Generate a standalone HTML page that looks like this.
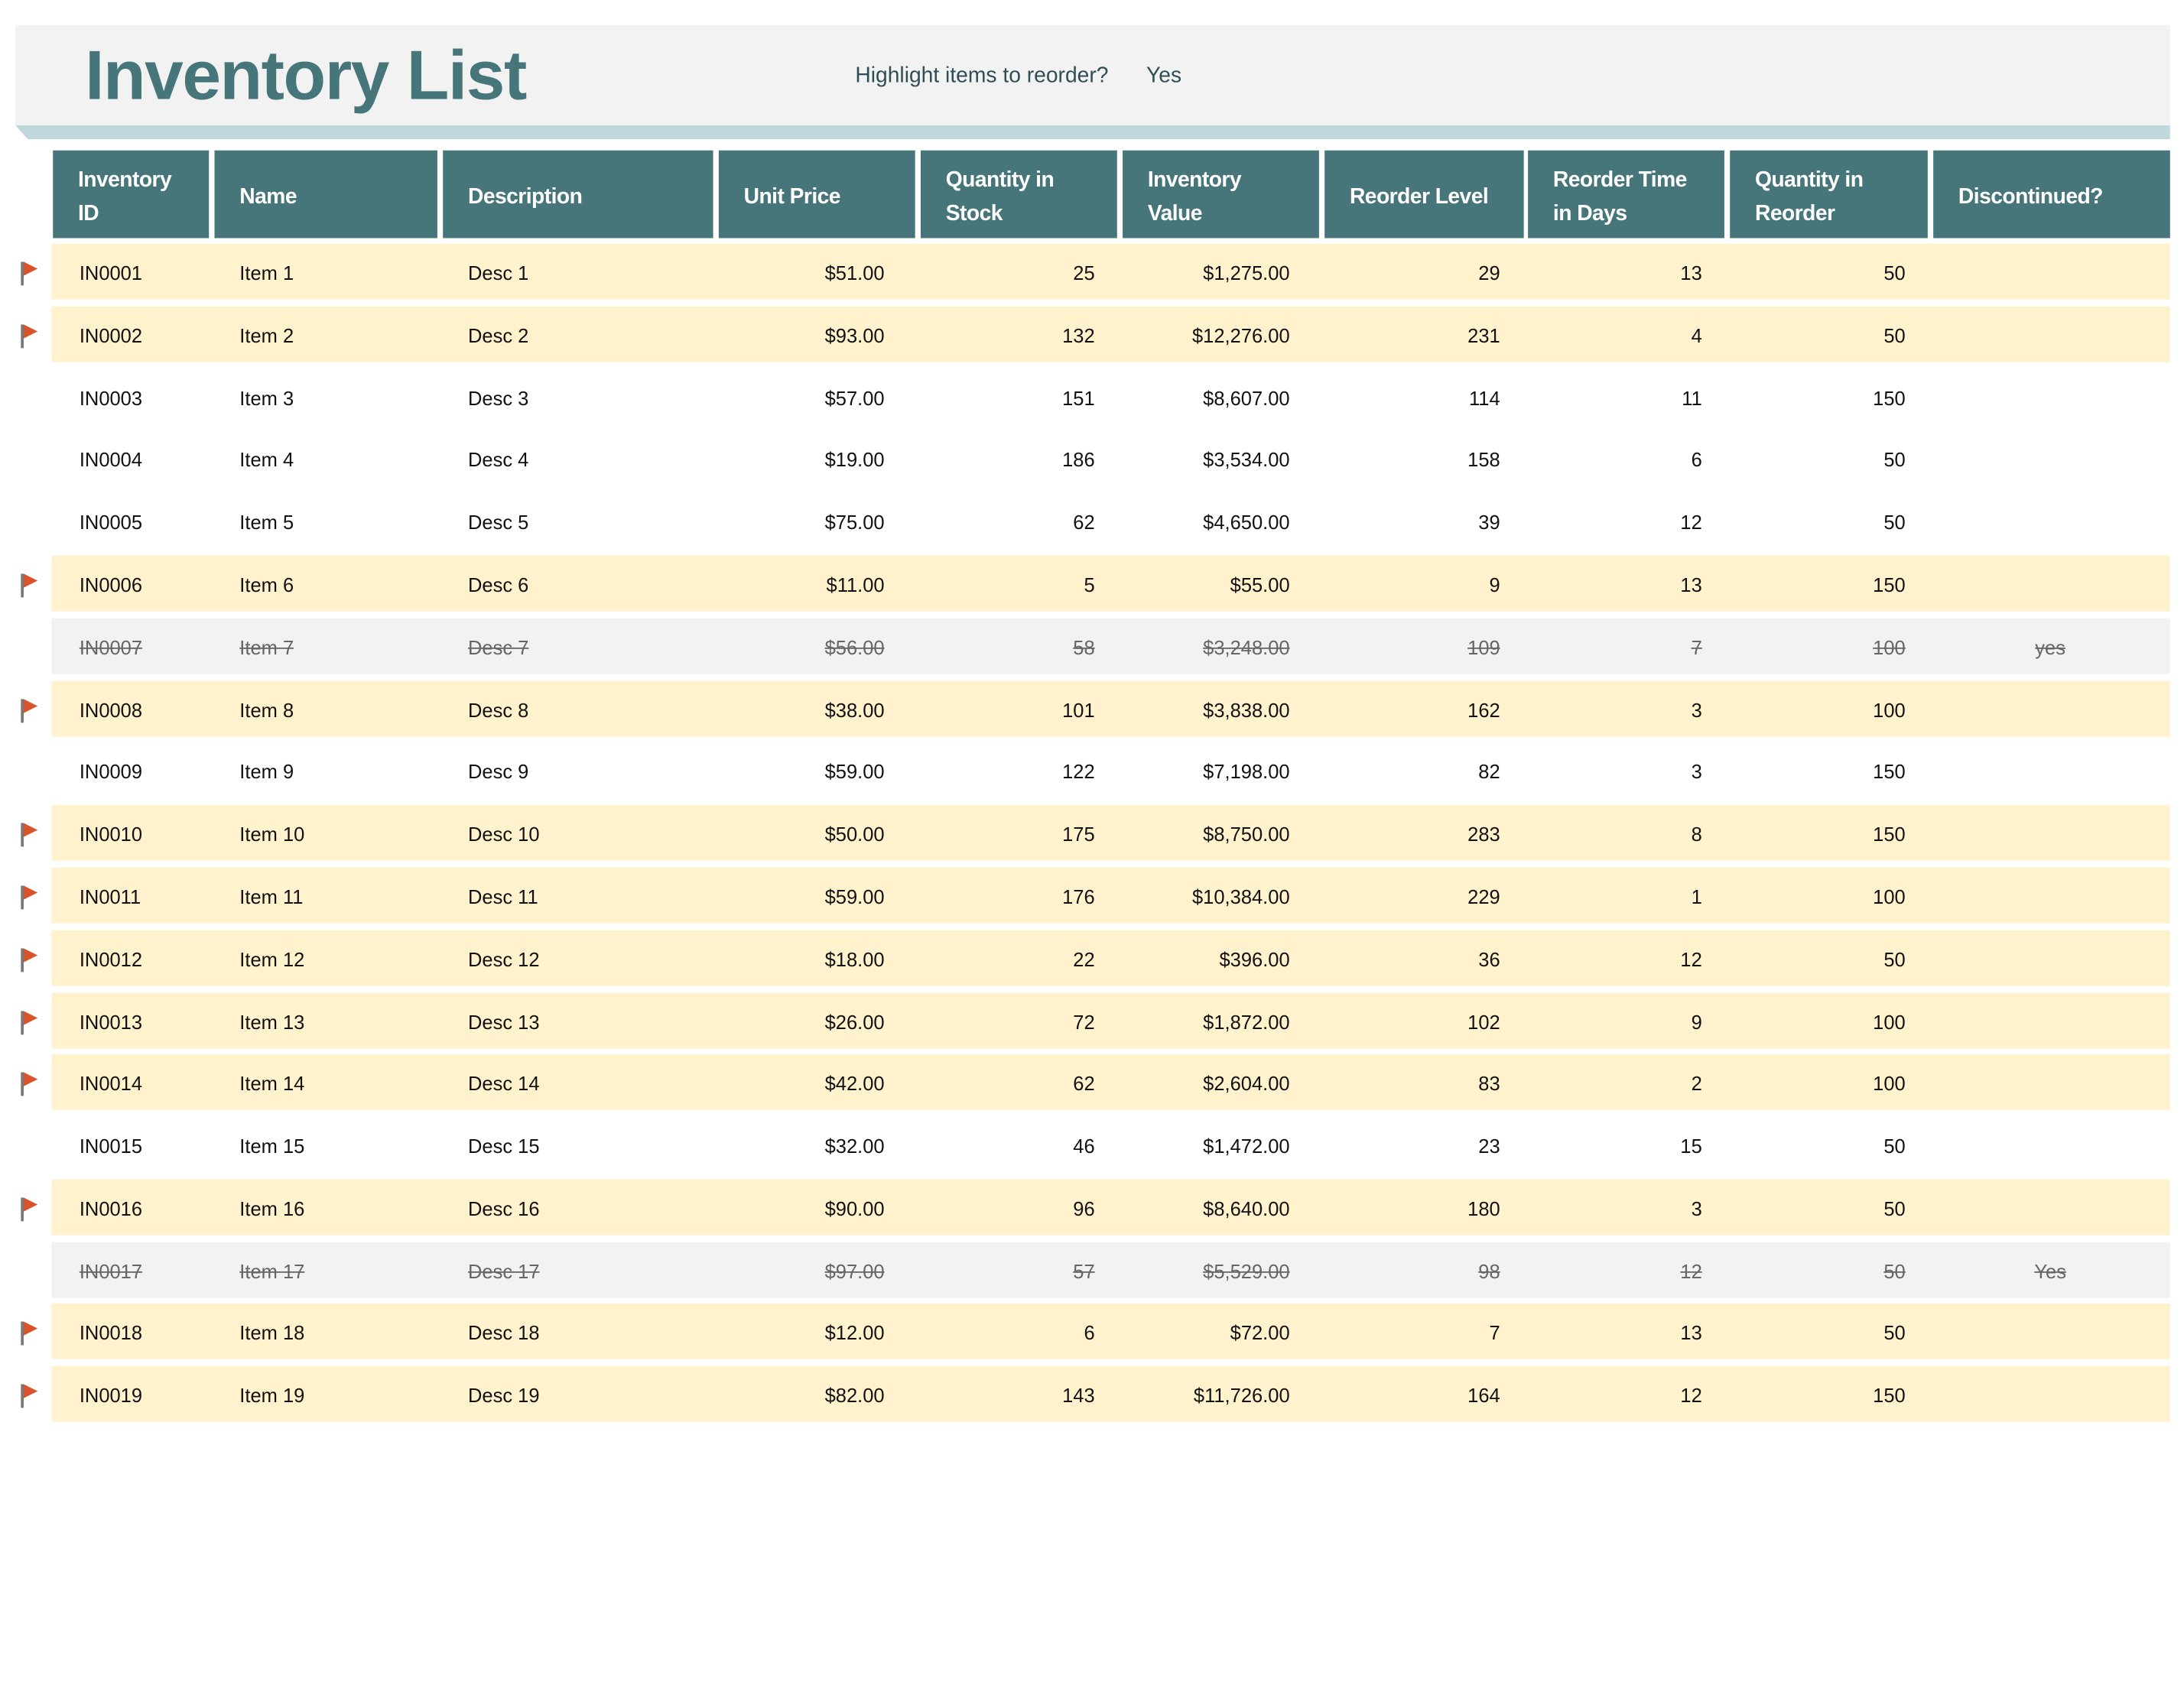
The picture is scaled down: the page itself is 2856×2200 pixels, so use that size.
<!DOCTYPE html>
<html><head><meta charset="utf-8">
<style>
html,body{margin:0;padding:0;background:#fff;}
body{width:2856px;height:2200px;overflow:hidden;position:relative;}
#w{position:absolute;left:0;top:0;width:1568px;height:1208px;transform:scale(1.82143);transform-origin:0 0;font-family:"Liberation Sans",sans-serif;}
.a{position:absolute;}
.band{left:11px;top:18px;width:1547px;height:72px;background:#f2f2f2;}
.title{left:61px;top:20px;font-size:50px;font-weight:bold;color:#46767a;letter-spacing:-0.8px;line-height:68px;}
.hl{top:45px;font-size:15.5px;color:#2f4f55;line-height:20px;}
.hc{top:108px;height:63px;background:#46767a;color:#fff;font-size:15.5px;font-weight:bold;line-height:24px;box-sizing:border-box;padding-left:18px;padding-top:4px;display:flex;align-items:center;letter-spacing:-0.3px;}
.r{left:37px;width:1521px;height:40px;}
.y{background:#fff2cc;}
.g{background:#f2f2f2;}
.t{position:absolute;top:1px;font-size:14px;line-height:40px;color:#111;white-space:nowrap;}
.d .t{color:#666;text-decoration:line-through;}
.c1{left:20px}.c2{left:135px}.c3{left:299px}
.c4{right:923px}.c5{right:772px}.c6{right:632px}.c7{right:481px}.c8{right:336px}.c9{right:190px}
.c10{left:1395px;width:80px;text-align:center}
.fp{position:absolute;left:-22px;top:13px;width:1.5px;height:17px;background:#777;}
.ft{position:absolute;left:-20px;top:13px;width:0;height:0;border-top:5px solid transparent;border-bottom:5px solid transparent;border-left:10px solid #d9542b;}
</style></head><body><div id="w">
<div class="a band"></div>
<div class="a title">Inventory List</div>
<div class="a hl" style="left:614px">Highlight items to reorder?</div>
<div class="a hl" style="left:823px">Yes</div>
<svg class="a" style="left:0;top:89px" width="1568" height="12"><polygon points="11,1 1558,1 1558,11 20,11" fill="#bed8db"/></svg>

<div class="a hc" style="left:38px;width:112px">Inventory<br>ID</div>
<div class="a hc" style="left:154px;width:160px">Name</div>
<div class="a hc" style="left:318px;width:194px">Description</div>
<div class="a hc" style="left:516px;width:141px">Unit Price</div>
<div class="a hc" style="left:661px;width:141px">Quantity in<br>Stock</div>
<div class="a hc" style="left:806px;width:141px">Inventory<br>Value</div>
<div class="a hc" style="left:951px;width:143px">Reorder Level</div>
<div class="a hc" style="left:1097px;width:141px">Reorder Time<br>in Days</div>
<div class="a hc" style="left:1242px;width:142px">Quantity in<br>Reorder</div>
<div class="a hc" style="left:1388px;width:170px">Discontinued?</div>

<div class="a r y" style="top:175px"><i class="fp"></i><i class="ft"></i><span class="t c1">IN0001</span><span class="t c2">Item 1</span><span class="t c3">Desc 1</span><span class="t c4">$51.00</span><span class="t c5">25</span><span class="t c6">$1,275.00</span><span class="t c7">29</span><span class="t c8">13</span><span class="t c9">50</span></div>
<div class="a r y" style="top:220px"><i class="fp"></i><i class="ft"></i><span class="t c1">IN0002</span><span class="t c2">Item 2</span><span class="t c3">Desc 2</span><span class="t c4">$93.00</span><span class="t c5">132</span><span class="t c6">$12,276.00</span><span class="t c7">231</span><span class="t c8">4</span><span class="t c9">50</span></div>
<div class="a r" style="top:265px"><span class="t c1">IN0003</span><span class="t c2">Item 3</span><span class="t c3">Desc 3</span><span class="t c4">$57.00</span><span class="t c5">151</span><span class="t c6">$8,607.00</span><span class="t c7">114</span><span class="t c8">11</span><span class="t c9">150</span></div>
<div class="a r" style="top:309px"><span class="t c1">IN0004</span><span class="t c2">Item 4</span><span class="t c3">Desc 4</span><span class="t c4">$19.00</span><span class="t c5">186</span><span class="t c6">$3,534.00</span><span class="t c7">158</span><span class="t c8">6</span><span class="t c9">50</span></div>
<div class="a r" style="top:354px"><span class="t c1">IN0005</span><span class="t c2">Item 5</span><span class="t c3">Desc 5</span><span class="t c4">$75.00</span><span class="t c5">62</span><span class="t c6">$4,650.00</span><span class="t c7">39</span><span class="t c8">12</span><span class="t c9">50</span></div>
<div class="a r y" style="top:399px"><i class="fp"></i><i class="ft"></i><span class="t c1">IN0006</span><span class="t c2">Item 6</span><span class="t c3">Desc 6</span><span class="t c4">$11.00</span><span class="t c5">5</span><span class="t c6">$55.00</span><span class="t c7">9</span><span class="t c8">13</span><span class="t c9">150</span></div>
<div class="a r g d" style="top:444px"><span class="t c1">IN0007</span><span class="t c2">Item 7</span><span class="t c3">Desc 7</span><span class="t c4">$56.00</span><span class="t c5">58</span><span class="t c6">$3,248.00</span><span class="t c7">109</span><span class="t c8">7</span><span class="t c9">100</span><span class="t c10">yes</span></div>
<div class="a r y" style="top:489px"><i class="fp"></i><i class="ft"></i><span class="t c1">IN0008</span><span class="t c2">Item 8</span><span class="t c3">Desc 8</span><span class="t c4">$38.00</span><span class="t c5">101</span><span class="t c6">$3,838.00</span><span class="t c7">162</span><span class="t c8">3</span><span class="t c9">100</span></div>
<div class="a r" style="top:533px"><span class="t c1">IN0009</span><span class="t c2">Item 9</span><span class="t c3">Desc 9</span><span class="t c4">$59.00</span><span class="t c5">122</span><span class="t c6">$7,198.00</span><span class="t c7">82</span><span class="t c8">3</span><span class="t c9">150</span></div>
<div class="a r y" style="top:578px"><i class="fp"></i><i class="ft"></i><span class="t c1">IN0010</span><span class="t c2">Item 10</span><span class="t c3">Desc 10</span><span class="t c4">$50.00</span><span class="t c5">175</span><span class="t c6">$8,750.00</span><span class="t c7">283</span><span class="t c8">8</span><span class="t c9">150</span></div>
<div class="a r y" style="top:623px"><i class="fp"></i><i class="ft"></i><span class="t c1">IN0011</span><span class="t c2">Item 11</span><span class="t c3">Desc 11</span><span class="t c4">$59.00</span><span class="t c5">176</span><span class="t c6">$10,384.00</span><span class="t c7">229</span><span class="t c8">1</span><span class="t c9">100</span></div>
<div class="a r y" style="top:668px"><i class="fp"></i><i class="ft"></i><span class="t c1">IN0012</span><span class="t c2">Item 12</span><span class="t c3">Desc 12</span><span class="t c4">$18.00</span><span class="t c5">22</span><span class="t c6">$396.00</span><span class="t c7">36</span><span class="t c8">12</span><span class="t c9">50</span></div>
<div class="a r y" style="top:713px"><i class="fp"></i><i class="ft"></i><span class="t c1">IN0013</span><span class="t c2">Item 13</span><span class="t c3">Desc 13</span><span class="t c4">$26.00</span><span class="t c5">72</span><span class="t c6">$1,872.00</span><span class="t c7">102</span><span class="t c8">9</span><span class="t c9">100</span></div>
<div class="a r y" style="top:757px"><i class="fp"></i><i class="ft"></i><span class="t c1">IN0014</span><span class="t c2">Item 14</span><span class="t c3">Desc 14</span><span class="t c4">$42.00</span><span class="t c5">62</span><span class="t c6">$2,604.00</span><span class="t c7">83</span><span class="t c8">2</span><span class="t c9">100</span></div>
<div class="a r" style="top:802px"><span class="t c1">IN0015</span><span class="t c2">Item 15</span><span class="t c3">Desc 15</span><span class="t c4">$32.00</span><span class="t c5">46</span><span class="t c6">$1,472.00</span><span class="t c7">23</span><span class="t c8">15</span><span class="t c9">50</span></div>
<div class="a r y" style="top:847px"><i class="fp"></i><i class="ft"></i><span class="t c1">IN0016</span><span class="t c2">Item 16</span><span class="t c3">Desc 16</span><span class="t c4">$90.00</span><span class="t c5">96</span><span class="t c6">$8,640.00</span><span class="t c7">180</span><span class="t c8">3</span><span class="t c9">50</span></div>
<div class="a r g d" style="top:892px"><span class="t c1">IN0017</span><span class="t c2">Item 17</span><span class="t c3">Desc 17</span><span class="t c4">$97.00</span><span class="t c5">57</span><span class="t c6">$5,529.00</span><span class="t c7">98</span><span class="t c8">12</span><span class="t c9">50</span><span class="t c10">Yes</span></div>
<div class="a r y" style="top:936px"><i class="fp"></i><i class="ft"></i><span class="t c1">IN0018</span><span class="t c2">Item 18</span><span class="t c3">Desc 18</span><span class="t c4">$12.00</span><span class="t c5">6</span><span class="t c6">$72.00</span><span class="t c7">7</span><span class="t c8">13</span><span class="t c9">50</span></div>
<div class="a r y" style="top:981px"><i class="fp"></i><i class="ft"></i><span class="t c1">IN0019</span><span class="t c2">Item 19</span><span class="t c3">Desc 19</span><span class="t c4">$82.00</span><span class="t c5">143</span><span class="t c6">$11,726.00</span><span class="t c7">164</span><span class="t c8">12</span><span class="t c9">150</span></div>
</div></body></html>
